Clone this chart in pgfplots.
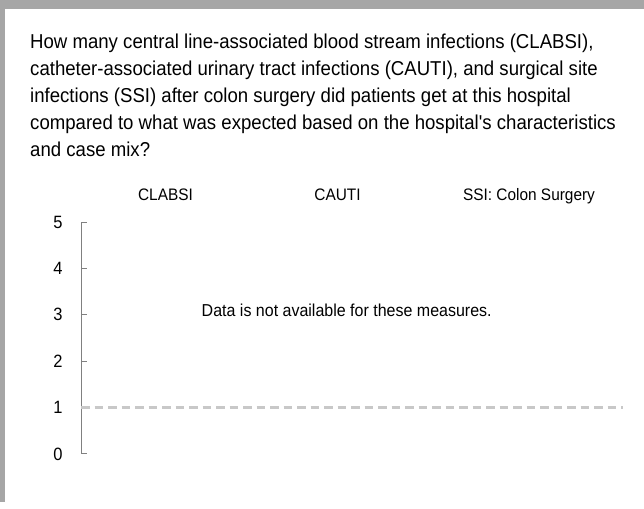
\documentclass[border=0pt]{standalone}
\usepackage{fontspec}
\setmainfont{Liberation Sans}[Ligatures=TeXOff]
\usepackage{graphicx}
\usepackage{pgfplots}
\pgfplotsset{compat=1.18}
\definecolor{framegray}{HTML}{A6A6A6}
\definecolor{axisgray}{HTML}{808080}
\definecolor{dashgray}{HTML}{C8C8C8}
\newcommand{\tall}[1]{\scalebox{1}[1.08]{#1}}
\begin{document}
\begin{tikzpicture}
\useasboundingbox (0pt,0pt) rectangle (644pt,508pt);
\fill[white] (0pt,0pt) rectangle (644pt,508pt);
\fill[framegray] (0pt,499pt) rectangle (644pt,508pt);
\fill[framegray] (0pt,6pt) rectangle (5pt,508pt);
\begin{scope}[every node/.style={anchor=base west, inner sep=0pt, font=\fontsize{18.6}{22}\selectfont}]
\node at (30pt,459pt) {\tall{How many central line-associated blood stream infections (CLABSI),}};
\node at (30pt,432.2pt) {\tall{catheter-associated urinary tract infections (CAUTI), and surgical site}};
\node at (30pt,405.4pt) {\tall{infections (SSI) after colon surgery did patients get at this hospital}};
\node at (30pt,378.6pt) {\tall{compared to what was expected based on the hospital's characteristics}};
\node at (30pt,351.8pt) {\tall{and case mix?}};
\end{scope}
\begin{scope}[every node/.style={anchor=base, inner sep=0pt, font=\fontsize{15.4}{18}\selectfont}]
\node at (165.5pt,307pt) {\tall{CLABSI}};
\node at (337.5pt,307pt) {\tall{CAUTI}};
\node at (529pt,307pt) {\tall{SSI: Colon Surgery}};
\node[font=\fontsize{16}{19}\selectfont] at (346.7pt,191pt) {\tall{Data is not available for these measures.}};
\end{scope}
\begin{axis}[at={(81pt,54pt)}, anchor=south west, scale only axis,
  width=542pt, height=232pt,
  xmin=81, xmax=623, ymin=0, ymax=5,
  axis x line=none, axis y line=left,
  axis line style={-, draw=axisgray, line width=1pt},
  ytick={0,1,2,3,4,5}, tick align=inside, major tick length=6pt,
  tick style={draw=axisgray, line width=1pt},
  yticklabel style={font=\fontsize{16.5}{19}\selectfont, xshift=-15pt},
  yticklabel={\tall{\pgfmathprintnumber{\tick}}},
  /pgf/number format/assume math mode=true,
  clip=false]
\addplot[draw=dashgray, line width=3pt, dash pattern=on 8.5pt off 5pt] coordinates {(81,1) (623,1)};
\end{axis}
\end{tikzpicture}
\end{document}
